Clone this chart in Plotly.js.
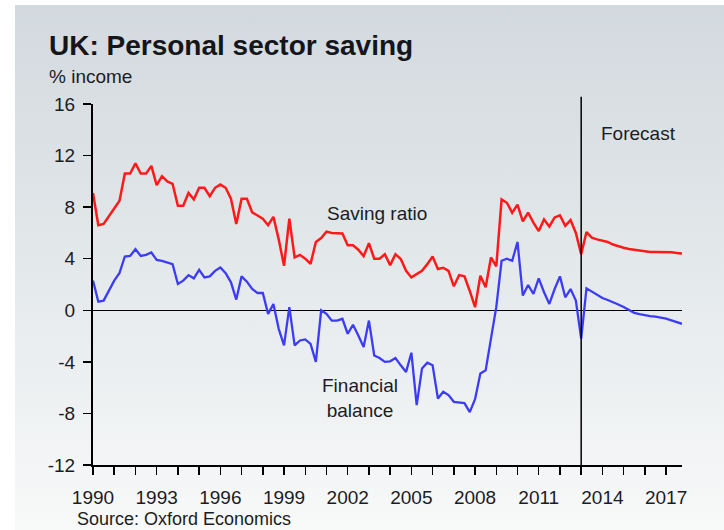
<!DOCTYPE html>
<html>
<head>
<meta charset="utf-8">
<script src="https://cdn.plot.ly/plotly-3.0.1.min.js"></script>
<style>
  html, body { margin: 0; padding: 0; background: #ffffff; }
  #bg { position: absolute; left: 15px; top: 5px; width: 709px; height: 525px;
        background: linear-gradient(180deg, #d3dadf 0%, #dce2e5 30%, #e8ecee 60%, #f2f4f5 85%, #f8f9f9 100%); }
  #chart { position: absolute; left: 0; top: 0; width: 724px; height: 530px; }
</style>
</head>
<body>
<div id="bg"></div>
<div id="chart"></div>
<script>
// ---- Data (quarterly, 1990 Q1 to 2017 Q4) ----
const startYear = 1990;
const savingRatio = [
  9.1, 6.6, 6.7, 7.3, 7.9, 8.5, 10.6, 10.6, 11.4, 10.6,
  10.6, 11.2, 9.7, 10.4, 10.0, 9.8, 8.1, 8.1, 9.1, 8.6,
  9.5, 9.5, 8.85, 9.5, 9.75, 9.5, 8.65, 6.7, 8.65, 8.65,
  7.6, 7.35, 7.1, 6.6, 7.25, 5.5, 3.45, 7.1, 4.1, 4.3,
  4.0, 3.6, 5.3, 5.6, 6.1, 6.0, 6.0, 5.95, 5.05, 5.05,
  4.7, 4.2, 5.2, 4.0, 4.0, 4.35, 3.5, 4.35, 3.97, 3.06,
  2.55, 2.8, 3.06, 3.58, 4.17, 3.2, 3.3, 3.06, 1.86, 2.73,
  2.63, 1.5, 0.24, 2.68, 1.78, 4.1, 3.4, 8.6, 8.34, 7.57,
  8.2, 6.9, 7.57, 6.8, 6.15, 7.05, 6.5, 7.2, 7.36, 6.55,
  7.0, 6.0, 4.35, 6.07, 5.64, 5.5, 5.4, 5.3, 5.1, 4.95,
  4.85, 4.75, 4.69, 4.6, 4.55, 4.53, 4.53, 4.53, 4.53, 4.5,
  4.45, 4.4
];
const financialBalance = [
  2.3, 0.67, 0.75, 1.5, 2.3, 2.9, 4.17, 4.22, 4.74, 4.22,
  4.3, 4.48, 3.9, 3.84, 3.7, 3.58, 2.04, 2.3, 2.73, 2.48,
  3.14, 2.55, 2.63, 3.06, 3.32, 2.88, 2.17, 0.83, 2.63, 2.22,
  1.65, 1.34, 1.34, -0.28, 0.49, -1.44, -2.72, 0.24, -2.72, -2.34,
  -2.26, -2.6, -4.0, 0.0, -0.28, -0.8, -0.8, -0.66, -1.82, -1.13,
  -1.95, -2.85, -0.8, -3.5, -3.7, -4.0, -3.96, -3.7, -4.27, -4.78,
  -3.29, -7.35, -4.52, -4.06, -4.27, -6.84, -6.32, -6.58, -7.1, -7.15,
  -7.2, -7.9, -6.9, -4.9, -4.65, -2.2, 0.24, 3.84, 4.0, 3.84,
  5.3, 1.14, 1.96, 1.27, 2.48, 1.4, 0.49, 1.65, 2.63, 1.01,
  1.65, 0.75, -2.2, 1.7, 1.45, 1.2, 0.95, 0.8, 0.65, 0.45,
  0.25, 0.05, -0.2, -0.3, -0.4, -0.45, -0.5, -0.55, -0.65, -0.78,
  -0.9, -1.05
];
const forecastStart = 2013.0;
const yTickVals = [-12, -8, -4, 0, 4, 8, 12, 16];
const yTickText = ["-12", "-8", "-4", "0", "4", "8", "12", "16"];

const quarters = savingRatio.map((_, i) => startYear + i / 4);

const FONT = "Liberation Sans, Arial, Helvetica, sans-serif";
const TXT = "#1c1c24";

const traces = [
  { x: quarters, y: savingRatio, type: "scatter", mode: "lines",
    line: { color: "#ff1a1a", width: 2.5 }, hoverinfo: "x+y", name: "Saving ratio" },
  { x: quarters, y: financialBalance, type: "scatter", mode: "lines",
    line: { color: "#3c3cf5", width: 2.3 }, hoverinfo: "x+y", name: "Financial balance" }
];

const layout = {
  width: 724, height: 530,
  margin: { l: 93, r: 42, t: 104, b: 65, pad: 0 },
  paper_bgcolor: "rgba(0,0,0,0)", plot_bgcolor: "rgba(0,0,0,0)",
  showlegend: false,
  font: { family: FONT, size: 19, color: TXT },
  title: { text: "UK: Personal sector saving", font: { family: FONT, size: 28, weight: 700, color: "#15151c" },
           xref: "container", yref: "container", x: 49 / 724, xanchor: "left", y: 1 - 45 / 530, yanchor: "middle" },
  xaxis: {
    range: [1990, 2017.75], tickmode: "linear", tick0: 1990, dtick: 3,
    ticks: "outside", ticklen: 8, tickwidth: 1.5, tickcolor: "#000",
    minor: { tick0: 1990, dtick: 1, ticks: "outside", ticklen: 8, tickwidth: 1.5, tickcolor: "#000", showgrid: false },
    showline: true, linecolor: "#000", linewidth: 2,
    showgrid: false, zeroline: false, ticklabelstandoff: 6,
    tickfont: { family: FONT, size: 19, color: TXT }
  },
  yaxis: {
    range: [-12, 16], tickmode: "array", tickvals: yTickVals, ticktext: yTickText,
    ticks: "outside", ticklen: 8, tickwidth: 1.5, tickcolor: "#000",
    showline: true, linecolor: "#000", linewidth: 2,
    showgrid: false, zeroline: true, zerolinecolor: "#000", zerolinewidth: 1.5,
    ticklabelstandoff: 4,
    tickfont: { family: FONT, size: 19, color: TXT }
  },
  shapes: [
    { type: "line", xref: "x", yref: "paper", x0: forecastStart, x1: forecastStart, y0: 0, y1: 1.02,
      line: { color: "#000", width: 1.5 } }
  ],
  annotations: [
    { text: "% income", xref: "paper", yref: "paper", x: (47 - 93) / 589, y: (465 - 76) / 361,
      xanchor: "left", yanchor: "middle", showarrow: false, font: { family: FONT, size: 19, color: TXT } },
    { text: "Saving ratio", xref: "x", yref: "y", x: 2003.37, y: 7.5,
      xanchor: "center", yanchor: "middle", showarrow: false, font: { family: FONT, size: 19, color: TXT } },
    { text: "Financial<br>balance", xref: "x", yref: "y", x: 2002.6, y: -6.8,
      xanchor: "center", yanchor: "middle", showarrow: false, font: { family: FONT, size: 19, color: TXT } },
    { text: "Forecast", xref: "x", yref: "y", x: 2015.7, y: 13.7,
      xanchor: "center", yanchor: "middle", showarrow: false, font: { family: FONT, size: 19, color: TXT } },
    { text: "Source: Oxford Economics", xref: "paper", yref: "paper", x: (75 - 93) / 589, y: (465 - 519) / 361,
      xanchor: "left", yanchor: "middle", showarrow: false, font: { family: FONT, size: 18, color: TXT } }
  ]
};

Plotly.newPlot("chart", traces, layout, { displayModeBar: false, staticPlot: true });
</script>
</body>
</html>
